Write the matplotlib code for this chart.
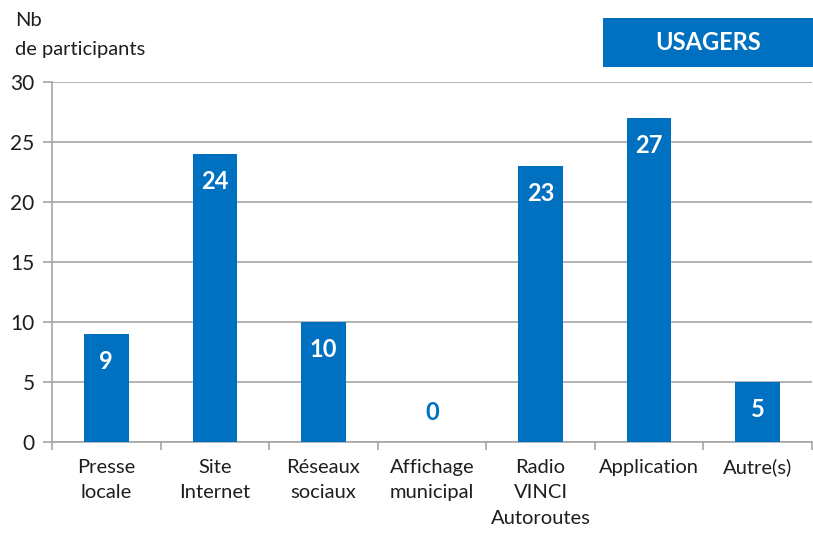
import matplotlib
matplotlib.use("Agg")
import matplotlib.pyplot as plt
from matplotlib.patches import Rectangle

categories = ["Presse\nlocale", "Site\nInternet", "Réseaux\nsociaux", "Affichage\nmunicipal",
              "Radio\nVINCI\nAutoroutes", "Application", "Autre(s)"]
values = [9, 24, 10, 0, 23, 27, 5]
yticks = [0, 5, 10, 15, 20, 25, 30]

BLUE = "#0070C0"
GRID = "#A6A6A6"
TXT = "#1e1e1e"
plt.rcParams['font.family'] = ['Lato', 'DejaVu Sans']

W, H = 813, 533
fig = plt.figure(figsize=(W/100, H/100), dpi=100)
ax = fig.add_axes([52/W, (H-442)/H, (812-52)/W, (442-82)/H])

x = list(range(len(categories)))
ax.bar(x, values, width=0.41, color=BLUE, zorder=3)
ax.set_xlim(-0.5, len(categories)-0.5)
ax.set_ylim(0, 30)
ax.set_yticks(yticks)
ax.yaxis.grid(True, color=GRID, linewidth=1.2, zorder=0)
ax.set_axisbelow(True)
for s in ["top", "right"]:
    ax.spines[s].set_visible(False)
for s in ["left", "bottom"]:
    ax.spines[s].set_color(GRID)
    ax.spines[s].set_linewidth(1.2)
ax.tick_params(axis="y", length=6.5, width=1.2, color=GRID, labelsize=15, labelcolor=TXT, pad=6)
ax.set_xticks(x)
ax.set_xticklabels(categories, fontsize=14.5, color=TXT, linespacing=1.62, va="top")
ax.tick_params(axis="x", length=0, pad=12)
ax.set_xticks([i - 0.5 for i in range(len(categories)+1)], minor=True)
ax.tick_params(axis="x", which="minor", length=6, width=1.2, color=GRID)

for xi, v in zip(x, values):
    if v > 0:
        ax.text(xi, v - 2.3, str(v), ha="center", va="center", color="white",
                fontsize=17, fontweight="bold", zorder=4)
    else:
        ax.text(xi, 2.5, str(v), ha="center", va="center", color=BLUE,
                fontsize=17, fontweight="bold", zorder=4)

fig.text(15/W, 1 - 20/H, "Nb", fontsize=14.5, color=TXT, va="center", ha="left")
fig.text(15/W, 1 - 50/H, "de participants", fontsize=14.5, color=TXT, va="center", ha="left")

fig.patches.append(Rectangle((603/W, 1 - 67/H), (813-603)/W, 49/H, transform=fig.transFigure,
                             facecolor=BLUE, edgecolor="none"))
fig.text(708/W, 1 - 42/H, "USAGERS", fontsize=17, fontweight="bold", color="white",
         ha="center", va="center")

fig.savefig("out.png", dpi=100)
